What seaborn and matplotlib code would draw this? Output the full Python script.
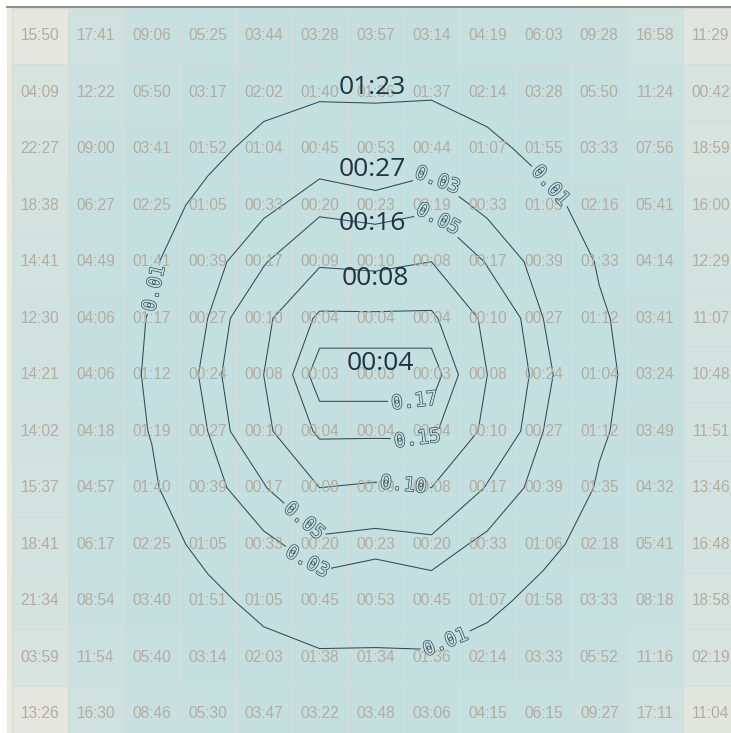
import numpy as np
import pandas as pd
import matplotlib
matplotlib.use("Agg")
import matplotlib.pyplot as plt
import matplotlib.patheffects as pe
from matplotlib.colors import LinearSegmentedColormap
from matplotlib.patches import Rectangle
import seaborn as sns

# --- DATA ---
times = [
    ["15:50", "17:41", "09:06", "05:25", "03:44", "03:28", "03:57", "03:14", "04:19", "06:03", "09:28", "16:58", "11:29"],
    ["04:09", "12:22", "05:50", "03:17", "02:02", "01:40", "01:36", "01:37", "02:14", "03:28", "05:50", "11:24", "00:42"],
    ["22:27", "09:00", "03:41", "01:52", "01:04", "00:45", "00:53", "00:44", "01:07", "01:55", "03:33", "07:56", "18:59"],
    ["18:38", "06:27", "02:25", "01:05", "00:33", "00:20", "00:23", "00:19", "00:33", "01:05", "02:16", "05:41", "16:00"],
    ["14:41", "04:49", "01:41", "00:39", "00:17", "00:09", "00:10", "00:08", "00:17", "00:39", "01:33", "04:14", "12:29"],
    ["12:30", "04:06", "01:17", "00:27", "00:10", "00:04", "00:04", "00:04", "00:10", "00:27", "01:12", "03:41", "11:07"],
    ["14:21", "04:06", "01:12", "00:24", "00:08", "00:03", "00:03", "00:03", "00:08", "00:24", "01:04", "03:24", "10:48"],
    ["14:02", "04:18", "01:19", "00:27", "00:10", "00:04", "00:04", "00:04", "00:10", "00:27", "01:12", "03:49", "11:51"],
    ["15:37", "04:57", "01:40", "00:39", "00:17", "00:08", "00:09", "00:08", "00:17", "00:39", "01:35", "04:32", "13:46"],
    ["18:41", "06:17", "02:25", "01:05", "00:33", "00:20", "00:23", "00:20", "00:33", "01:06", "02:18", "05:41", "16:48"],
    ["21:34", "08:54", "03:40", "01:51", "01:05", "00:45", "00:53", "00:45", "01:07", "01:58", "03:33", "08:18", "18:58"],
    ["03:59", "11:54", "05:40", "03:14", "02:03", "01:38", "01:34", "01:36", "02:14", "03:33", "05:52", "11:16", "02:19"],
    ["13:26", "16:30", "08:46", "05:30", "03:47", "03:22", "03:48", "03:06", "04:15", "06:15", "09:27", "17:11", "11:04"],
]

# cell background shade (0 = teal, 1 = grey)
shade = [
    [1.00, 0.35, 0.15, 0.08, 0.05, 0.05, 0.05, 0.05, 0.08, 0.10, 0.20, 0.35, 0.92],
    [0.62, 0.22, 0.08, 0.04, 0.02, 0.02, 0.02, 0.02, 0.04, 0.06, 0.10, 0.22, 0.62],
    [0.55, 0.15, 0.05, 0.02, 0.00, 0.00, 0.00, 0.00, 0.02, 0.04, 0.08, 0.15, 0.58],
    [0.48, 0.10, 0.04, 0.00, 0.00, 0.00, 0.00, 0.00, 0.00, 0.02, 0.05, 0.10, 0.50],
    [0.42, 0.08, 0.02, 0.00, 0.00, 0.00, 0.00, 0.00, 0.00, 0.00, 0.04, 0.08, 0.45],
    [0.38, 0.06, 0.02, 0.00, 0.00, 0.00, 0.00, 0.00, 0.00, 0.00, 0.03, 0.06, 0.42],
    [0.38, 0.06, 0.02, 0.00, 0.00, 0.00, 0.00, 0.00, 0.00, 0.00, 0.03, 0.06, 0.42],
    [0.38, 0.06, 0.02, 0.00, 0.00, 0.00, 0.00, 0.00, 0.00, 0.00, 0.03, 0.06, 0.42],
    [0.42, 0.08, 0.02, 0.00, 0.00, 0.00, 0.00, 0.00, 0.00, 0.00, 0.04, 0.08, 0.45],
    [0.48, 0.10, 0.04, 0.00, 0.00, 0.00, 0.00, 0.00, 0.00, 0.02, 0.05, 0.10, 0.50],
    [0.55, 0.15, 0.05, 0.02, 0.00, 0.00, 0.00, 0.00, 0.02, 0.04, 0.08, 0.15, 0.58],
    [0.62, 0.22, 0.08, 0.04, 0.02, 0.02, 0.02, 0.02, 0.04, 0.06, 0.10, 0.22, 0.62],
    [1.00, 0.35, 0.15, 0.08, 0.05, 0.05, 0.05, 0.05, 0.08, 0.10, 0.20, 0.35, 0.95],
]

# contour levels (seconds) with their printed labels
level_secs = [83, 27, 16, 8, 4.3, 3.4]
level_labels = ["0.01", "0.03", "0.05", "0.10", "0.15", "0.17"]
big_labels = ["01:23", "00:27", "00:16", "00:08", "00:04"]
big_label_pos = [(6.44, 1.42), (6.44, 2.86), (6.44, 3.82), (6.49, 4.80), (6.58, 6.30)]
clabel_pos = [(2.24, 4.91), (9.53, 3.23), (7.84, 11.41), (7.57, 3.11), (5.24, 9.87),
              (7.57, 3.80), (5.24, 9.07), (7.00, 8.45), (7.25, 7.63), (7.20, 6.95)]

# --- PREP ---
def to_sec(s):
    m, sec = s.split(":")
    return int(m) * 60 + int(sec)

secs = np.array([[to_sec(v) for v in row] for row in times], dtype=float)
field = 1.0 / secs
shade_df = pd.DataFrame(shade)
labels = np.array(times)

# --- PLOT ---
fig = plt.figure(figsize=(7.31, 7.33), dpi=100)
W, H = 731, 733
ax = fig.add_axes([12 / W, (H - 742) / H, 727 / W, 734.5 / H])

cmap = LinearSegmentedColormap.from_list("tealgrey", ["#c3dfdf", "#e4e6df"])
sns.heatmap(shade_df, ax=ax, cmap=cmap, vmin=0, vmax=1, cbar=False,
            annot=labels, fmt="", linewidths=0.6, linecolor="#d3ddd8",
            xticklabels=False, yticklabels=False,
            annot_kws={"fontsize": 11.2, "color": "#b3aca1", "family": "Liberation Sans"})

# contours only over the inner columns (the edge column has no rings)
ncols = 12
X, Y = np.meshgrid(np.arange(ncols) + 0.5, np.arange(13) + 0.5)
levels = [1.0 / s for s in level_secs]
cs = ax.contour(X, Y, field[:, :ncols], levels=levels, colors="#2f4b58", linewidths=0.75)
fmt = dict(zip(cs.levels, level_labels))
texts = ax.clabel(cs, fmt=fmt, manual=clabel_pos, inline=True, fontsize=14)
for t in texts:
    t.set_color("#c3dfdf")
    t.set_family("DejaVu Sans Mono")
    t.set_path_effects([pe.withStroke(linewidth=1.0, foreground="#2f4b58")])

for txt, (x, y) in zip(big_labels, big_label_pos):
    ax.text(x, y, txt, ha="center", va="center", fontsize=19,
            color="#1d3444", family="Open Sans")

ax.set_xlim(0, 13)
ax.set_ylim(13, 0)
for s in ax.spines.values():
    s.set_visible(False)

# frame details: beige strip on the left, grey rule on top
fig.patches.append(Rectangle((7 / W, 0), 5 / W, (H - 7) / H, transform=fig.transFigure,
                             facecolor="#ebe9da", edgecolor="none"))
fig.lines.append(plt.Line2D([7 / W, 1], [(H - 7) / H, (H - 7) / H], transform=fig.transFigure,
                            color="#85857d", linewidth=1.3))

fig.savefig("out.png", dpi=100)
